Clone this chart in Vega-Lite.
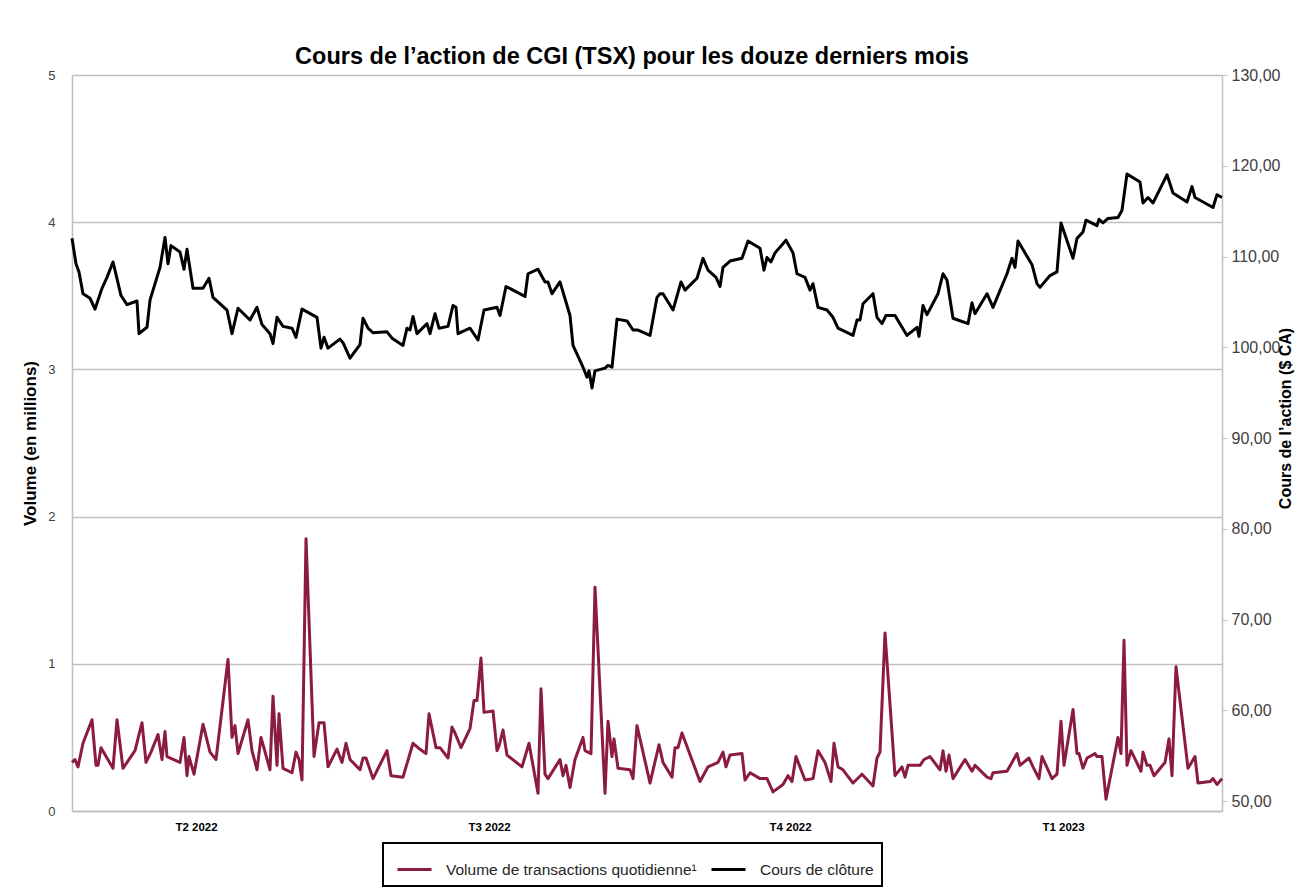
{
  "$schema": "https://vega.github.io/schema/vega-lite/v6.json",
  "autosize": {"type": "none"},
  "width": 1150,
  "height": 736,
  "padding": {"left": 72, "top": 75, "right": 74, "bottom": 84},
  "background": "white",
  "config": {
    "font": "Liberation Sans",
    "view": {"stroke": null},
    "axis": {"labelFont": "Liberation Sans", "titleFont": "Liberation Sans"}
  },
  "title": {
    "text": "Cours de l’action de CGI (TSX) pour les douze derniers mois",
    "font": "Liberation Sans",
    "fontSize": 23.5,
    "fontWeight": "bold",
    "color": "#000000",
    "anchor": "middle",
    "dx": -15,
    "offset": -1
  },
  "datasets": {
    "volume": [
      {"jour": 0.0, "volume": 0.33}, {"jour": 0.6, "volume": 0.35}, {"jour": 1.2, "volume": 0.30}, {"jour": 2.2, "volume": 0.46},
      {"jour": 4.0, "volume": 0.62}, {"jour": 4.8, "volume": 0.31}, {"jour": 5.2, "volume": 0.31}, {"jour": 5.8, "volume": 0.43},
      {"jour": 8.2, "volume": 0.29}, {"jour": 9.0, "volume": 0.62}, {"jour": 10.2, "volume": 0.29}, {"jour": 12.6, "volume": 0.41},
      {"jour": 14.0, "volume": 0.60}, {"jour": 14.8, "volume": 0.33}, {"jour": 15.8, "volume": 0.40}, {"jour": 17.2, "volume": 0.52},
      {"jour": 18.0, "volume": 0.35}, {"jour": 18.6, "volume": 0.54}, {"jour": 19.0, "volume": 0.37}, {"jour": 21.6, "volume": 0.33},
      {"jour": 22.4, "volume": 0.50}, {"jour": 23.0, "volume": 0.24}, {"jour": 23.4, "volume": 0.37}, {"jour": 24.4, "volume": 0.25},
      {"jour": 26.2, "volume": 0.59}, {"jour": 27.6, "volume": 0.40}, {"jour": 28.8, "volume": 0.35}, {"jour": 31.2, "volume": 1.03},
      {"jour": 32.0, "volume": 0.50}, {"jour": 32.6, "volume": 0.58}, {"jour": 33.2, "volume": 0.39}, {"jour": 35.2, "volume": 0.62},
      {"jour": 36.0, "volume": 0.41}, {"jour": 37.0, "volume": 0.28}, {"jour": 37.8, "volume": 0.50}, {"jour": 39.6, "volume": 0.28},
      {"jour": 40.2, "volume": 0.78}, {"jour": 41.0, "volume": 0.31}, {"jour": 41.4, "volume": 0.66}, {"jour": 42.2, "volume": 0.29},
      {"jour": 44.0, "volume": 0.26}, {"jour": 44.8, "volume": 0.40}, {"jour": 45.4, "volume": 0.35}, {"jour": 46.0, "volume": 0.21},
      {"jour": 46.8, "volume": 1.85}, {"jour": 48.4, "volume": 0.37}, {"jour": 49.4, "volume": 0.60}, {"jour": 50.4, "volume": 0.60},
      {"jour": 51.2, "volume": 0.30}, {"jour": 53.0, "volume": 0.42}, {"jour": 54.0, "volume": 0.33}, {"jour": 54.8, "volume": 0.46},
      {"jour": 55.6, "volume": 0.35}, {"jour": 57.6, "volume": 0.28}, {"jour": 58.2, "volume": 0.36}, {"jour": 58.8, "volume": 0.36},
      {"jour": 60.2, "volume": 0.22}, {"jour": 63.0, "volume": 0.41}, {"jour": 63.8, "volume": 0.24}, {"jour": 66.2, "volume": 0.23},
      {"jour": 68.2, "volume": 0.46}, {"jour": 69.2, "volume": 0.43}, {"jour": 70.8, "volume": 0.39}, {"jour": 71.4, "volume": 0.66},
      {"jour": 72.8, "volume": 0.43}, {"jour": 73.6, "volume": 0.43}, {"jour": 75.2, "volume": 0.36}, {"jour": 76.0, "volume": 0.57},
      {"jour": 76.6, "volume": 0.53}, {"jour": 77.8, "volume": 0.43}, {"jour": 79.6, "volume": 0.56}, {"jour": 80.4, "volume": 0.75},
      {"jour": 81.0, "volume": 0.75}, {"jour": 81.8, "volume": 1.04}, {"jour": 82.4, "volume": 0.67}, {"jour": 84.2, "volume": 0.68},
      {"jour": 85.0, "volume": 0.41}, {"jour": 85.4, "volume": 0.44}, {"jour": 86.2, "volume": 0.55}, {"jour": 87.0, "volume": 0.38},
      {"jour": 90.0, "volume": 0.30}, {"jour": 91.4, "volume": 0.46}, {"jour": 93.2, "volume": 0.12}, {"jour": 93.8, "volume": 0.83},
      {"jour": 94.6, "volume": 0.25}, {"jour": 95.2, "volume": 0.22}, {"jour": 97.6, "volume": 0.35}, {"jour": 98.2, "volume": 0.24},
      {"jour": 98.8, "volume": 0.31}, {"jour": 99.6, "volume": 0.16}, {"jour": 100.6, "volume": 0.35}, {"jour": 102.2, "volume": 0.50},
      {"jour": 102.6, "volume": 0.41}, {"jour": 103.8, "volume": 0.39}, {"jour": 104.6, "volume": 1.52}, {"jour": 106.6, "volume": 0.12},
      {"jour": 107.2, "volume": 0.61}, {"jour": 108.0, "volume": 0.37}, {"jour": 108.4, "volume": 0.49}, {"jour": 109.2, "volume": 0.29},
      {"jour": 111.6, "volume": 0.28}, {"jour": 112.2, "volume": 0.22}, {"jour": 113.0, "volume": 0.58}, {"jour": 115.6, "volume": 0.19},
      {"jour": 117.4, "volume": 0.45}, {"jour": 118.2, "volume": 0.33}, {"jour": 120.0, "volume": 0.23}, {"jour": 120.6, "volume": 0.43},
      {"jour": 121.2, "volume": 0.43}, {"jour": 122.0, "volume": 0.53}, {"jour": 125.6, "volume": 0.20}, {"jour": 127.2, "volume": 0.30},
      {"jour": 129.2, "volume": 0.33}, {"jour": 130.2, "volume": 0.40}, {"jour": 130.8, "volume": 0.30}, {"jour": 131.6, "volume": 0.38},
      {"jour": 134.0, "volume": 0.39}, {"jour": 134.6, "volume": 0.21}, {"jour": 135.6, "volume": 0.26}, {"jour": 137.6, "volume": 0.22},
      {"jour": 139.0, "volume": 0.22}, {"jour": 140.2, "volume": 0.13}, {"jour": 142.2, "volume": 0.18}, {"jour": 143.2, "volume": 0.24},
      {"jour": 144.0, "volume": 0.20}, {"jour": 144.8, "volume": 0.37}, {"jour": 146.6, "volume": 0.21}, {"jour": 148.2, "volume": 0.22},
      {"jour": 149.2, "volume": 0.41}, {"jour": 150.6, "volume": 0.33}, {"jour": 151.8, "volume": 0.20}, {"jour": 152.4, "volume": 0.46},
      {"jour": 153.2, "volume": 0.30}, {"jour": 154.2, "volume": 0.28}, {"jour": 156.2, "volume": 0.19}, {"jour": 158.0, "volume": 0.25},
      {"jour": 160.2, "volume": 0.17}, {"jour": 161.0, "volume": 0.36}, {"jour": 161.6, "volume": 0.40}, {"jour": 162.6, "volume": 1.21},
      {"jour": 164.6, "volume": 0.24}, {"jour": 166.0, "volume": 0.30}, {"jour": 166.6, "volume": 0.23}, {"jour": 167.2, "volume": 0.31},
      {"jour": 169.6, "volume": 0.31}, {"jour": 170.4, "volume": 0.35}, {"jour": 171.6, "volume": 0.37}, {"jour": 173.6, "volume": 0.28},
      {"jour": 174.2, "volume": 0.41}, {"jour": 174.8, "volume": 0.27}, {"jour": 175.4, "volume": 0.38}, {"jour": 176.2, "volume": 0.22},
      {"jour": 178.6, "volume": 0.35}, {"jour": 180.0, "volume": 0.27}, {"jour": 180.6, "volume": 0.31}, {"jour": 183.0, "volume": 0.23},
      {"jour": 183.8, "volume": 0.22}, {"jour": 184.2, "volume": 0.26}, {"jour": 187.0, "volume": 0.27}, {"jour": 189.0, "volume": 0.39},
      {"jour": 189.6, "volume": 0.31}, {"jour": 191.4, "volume": 0.36}, {"jour": 192.2, "volume": 0.30}, {"jour": 193.4, "volume": 0.22},
      {"jour": 194.0, "volume": 0.37}, {"jour": 196.0, "volume": 0.22}, {"jour": 197.0, "volume": 0.25}, {"jour": 197.8, "volume": 0.61},
      {"jour": 198.4, "volume": 0.31}, {"jour": 200.2, "volume": 0.69}, {"jour": 201.0, "volume": 0.39}, {"jour": 201.4, "volume": 0.39},
      {"jour": 202.2, "volume": 0.29}, {"jour": 203.0, "volume": 0.36}, {"jour": 204.6, "volume": 0.39}, {"jour": 205.0, "volume": 0.37},
      {"jour": 206.0, "volume": 0.37}, {"jour": 206.8, "volume": 0.08}, {"jour": 209.2, "volume": 0.50}, {"jour": 209.8, "volume": 0.39},
      {"jour": 210.4, "volume": 1.16}, {"jour": 211.0, "volume": 0.31}, {"jour": 211.8, "volume": 0.41}, {"jour": 213.8, "volume": 0.27},
      {"jour": 214.2, "volume": 0.40}, {"jour": 215.0, "volume": 0.31}, {"jour": 215.6, "volume": 0.31}, {"jour": 216.4, "volume": 0.24},
      {"jour": 218.6, "volume": 0.33}, {"jour": 219.4, "volume": 0.49}, {"jour": 220.0, "volume": 0.24}, {"jour": 220.8, "volume": 0.98},
      {"jour": 223.2, "volume": 0.29}, {"jour": 224.6, "volume": 0.37}, {"jour": 225.2, "volume": 0.19}, {"jour": 227.6, "volume": 0.20},
      {"jour": 228.2, "volume": 0.22}, {"jour": 229.0, "volume": 0.18}, {"jour": 230.0, "volume": 0.22}
    ],
    "cours": [
      {"jour": 0.0, "cours": 112.0}, {"jour": 0.8, "cours": 109.2}, {"jour": 1.4, "cours": 108.3}, {"jour": 2.2, "cours": 105.9},
      {"jour": 3.6, "cours": 105.4}, {"jour": 4.6, "cours": 104.2}, {"jour": 6.0, "cours": 106.5}, {"jour": 7.0, "cours": 107.7},
      {"jour": 8.2, "cours": 109.4}, {"jour": 9.8, "cours": 105.7}, {"jour": 11.0, "cours": 104.7}, {"jour": 13.0, "cours": 105.1},
      {"jour": 13.4, "cours": 101.5}, {"jour": 15.0, "cours": 102.2}, {"jour": 15.6, "cours": 105.2}, {"jour": 17.6, "cours": 108.8},
      {"jour": 18.6, "cours": 112.1}, {"jour": 19.2, "cours": 109.2}, {"jour": 19.8, "cours": 111.2}, {"jour": 21.6, "cours": 110.5},
      {"jour": 22.4, "cours": 108.6}, {"jour": 23.0, "cours": 110.8}, {"jour": 24.2, "cours": 106.5}, {"jour": 26.2, "cours": 106.5},
      {"jour": 27.4, "cours": 107.6}, {"jour": 28.2, "cours": 105.5}, {"jour": 31.0, "cours": 104.1}, {"jour": 32.0, "cours": 101.5},
      {"jour": 33.2, "cours": 104.3}, {"jour": 35.6, "cours": 103.0}, {"jour": 37.0, "cours": 104.4}, {"jour": 38.0, "cours": 102.5},
      {"jour": 39.6, "cours": 101.5}, {"jour": 40.2, "cours": 100.4}, {"jour": 41.0, "cours": 103.3}, {"jour": 42.2, "cours": 102.3},
      {"jour": 44.0, "cours": 102.1}, {"jour": 44.8, "cours": 101.1}, {"jour": 46.0, "cours": 104.2}, {"jour": 49.0, "cours": 103.3},
      {"jour": 49.8, "cours": 99.9}, {"jour": 50.4, "cours": 101.1}, {"jour": 51.2, "cours": 99.9}, {"jour": 53.6, "cours": 100.9},
      {"jour": 54.2, "cours": 100.5}, {"jour": 55.6, "cours": 98.8}, {"jour": 57.6, "cours": 100.3}, {"jour": 58.2, "cours": 103.2},
      {"jour": 59.2, "cours": 102.1}, {"jour": 60.2, "cours": 101.6}, {"jour": 63.0, "cours": 101.7}, {"jour": 64.0, "cours": 101.0},
      {"jour": 66.2, "cours": 100.2}, {"jour": 67.0, "cours": 102.1}, {"jour": 67.6, "cours": 101.9}, {"jour": 68.2, "cours": 103.4},
      {"jour": 69.0, "cours": 101.5}, {"jour": 71.0, "cours": 102.6}, {"jour": 71.6, "cours": 101.5}, {"jour": 72.6, "cours": 103.7},
      {"jour": 73.4, "cours": 102.1}, {"jour": 75.2, "cours": 102.3}, {"jour": 76.2, "cours": 104.6}, {"jour": 76.8, "cours": 104.4},
      {"jour": 77.2, "cours": 101.5}, {"jour": 79.6, "cours": 102.1}, {"jour": 81.2, "cours": 100.8}, {"jour": 82.4, "cours": 104.1},
      {"jour": 85.0, "cours": 104.4}, {"jour": 85.6, "cours": 103.5}, {"jour": 86.8, "cours": 106.7}, {"jour": 90.6, "cours": 105.6},
      {"jour": 91.2, "cours": 108.1}, {"jour": 93.2, "cours": 108.6}, {"jour": 94.6, "cours": 107.2}, {"jour": 95.2, "cours": 107.2},
      {"jour": 96.0, "cours": 105.9}, {"jour": 97.6, "cours": 107.2}, {"jour": 99.6, "cours": 103.5}, {"jour": 100.2, "cours": 100.2},
      {"jour": 102.2, "cours": 97.8}, {"jour": 103.0, "cours": 96.7}, {"jour": 103.4, "cours": 97.4}, {"jour": 104.0, "cours": 95.5},
      {"jour": 104.6, "cours": 97.4}, {"jour": 106.6, "cours": 97.7}, {"jour": 107.2, "cours": 98.0}, {"jour": 108.0, "cours": 97.8},
      {"jour": 109.0, "cours": 103.1}, {"jour": 111.0, "cours": 102.9}, {"jour": 112.2, "cours": 101.9}, {"jour": 113.2, "cours": 101.9},
      {"jour": 115.6, "cours": 101.3}, {"jour": 117.0, "cours": 105.5}, {"jour": 117.6, "cours": 105.9}, {"jour": 118.2, "cours": 105.9},
      {"jour": 120.2, "cours": 104.1}, {"jour": 121.8, "cours": 107.2}, {"jour": 122.6, "cours": 106.3}, {"jour": 125.0, "cours": 107.6},
      {"jour": 126.2, "cours": 109.8}, {"jour": 127.2, "cours": 108.5}, {"jour": 128.8, "cours": 107.7}, {"jour": 129.6, "cours": 106.7},
      {"jour": 130.2, "cours": 108.8}, {"jour": 131.6, "cours": 109.5}, {"jour": 134.0, "cours": 109.8}, {"jour": 135.2, "cours": 111.7},
      {"jour": 137.6, "cours": 110.9}, {"jour": 138.4, "cours": 108.5}, {"jour": 139.0, "cours": 109.9}, {"jour": 139.8, "cours": 109.4},
      {"jour": 140.6, "cours": 110.4}, {"jour": 142.8, "cours": 111.8}, {"jour": 144.2, "cours": 110.4}, {"jour": 145.0, "cours": 108.1},
      {"jour": 146.6, "cours": 107.7}, {"jour": 147.6, "cours": 106.3}, {"jour": 148.2, "cours": 107.0}, {"jour": 149.2, "cours": 104.4},
      {"jour": 151.0, "cours": 104.1}, {"jour": 152.2, "cours": 103.3}, {"jour": 153.2, "cours": 102.1}, {"jour": 156.2, "cours": 101.3},
      {"jour": 157.0, "cours": 103.0}, {"jour": 157.6, "cours": 103.0}, {"jour": 158.2, "cours": 104.8}, {"jour": 160.2, "cours": 105.9},
      {"jour": 161.0, "cours": 103.3}, {"jour": 162.0, "cours": 102.6}, {"jour": 162.8, "cours": 103.5}, {"jour": 164.6, "cours": 103.5},
      {"jour": 167.0, "cours": 101.3}, {"jour": 169.0, "cours": 102.2}, {"jour": 169.4, "cours": 101.2}, {"jour": 170.2, "cours": 104.6},
      {"jour": 171.0, "cours": 103.6}, {"jour": 173.2, "cours": 105.9}, {"jour": 174.2, "cours": 108.1}, {"jour": 175.0, "cours": 107.4},
      {"jour": 176.2, "cours": 103.2}, {"jour": 179.2, "cours": 102.6}, {"jour": 180.0, "cours": 104.9}, {"jour": 180.6, "cours": 103.7},
      {"jour": 183.0, "cours": 105.9}, {"jour": 184.2, "cours": 104.4}, {"jour": 187.0, "cours": 108.1}, {"jour": 188.0, "cours": 109.8},
      {"jour": 188.6, "cours": 108.8}, {"jour": 189.2, "cours": 111.7}, {"jour": 192.0, "cours": 109.1}, {"jour": 193.0, "cours": 107.0},
      {"jour": 193.6, "cours": 106.6}, {"jour": 195.6, "cours": 107.9}, {"jour": 197.0, "cours": 108.3}, {"jour": 197.8, "cours": 113.7},
      {"jour": 200.2, "cours": 109.8}, {"jour": 201.0, "cours": 112.0}, {"jour": 202.2, "cours": 112.7}, {"jour": 202.8, "cours": 114.0},
      {"jour": 205.0, "cours": 113.4}, {"jour": 205.4, "cours": 114.1}, {"jour": 206.2, "cours": 113.7}, {"jour": 207.2, "cours": 114.2},
      {"jour": 209.2, "cours": 114.3}, {"jour": 210.0, "cours": 115.1}, {"jour": 211.0, "cours": 119.1}, {"jour": 213.6, "cours": 118.2},
      {"jour": 214.2, "cours": 115.9}, {"jour": 215.2, "cours": 116.5}, {"jour": 216.2, "cours": 115.9}, {"jour": 219.0, "cours": 119.0},
      {"jour": 220.2, "cours": 117.0}, {"jour": 223.0, "cours": 116.0}, {"jour": 224.0, "cours": 117.7}, {"jour": 224.6, "cours": 116.5},
      {"jour": 228.2, "cours": 115.4}, {"jour": 229.0, "cours": 116.8}, {"jour": 230.0, "cours": 116.5}
    ]
  },
  "layer": [
    {
      "data": {"name": "volume"},
      "mark": {"type": "line", "strokeWidth": 3, "interpolate": "linear", "strokeJoin": "round"},
      "encoding": {
        "x": {
          "field": "jour", "type": "quantitative",
          "scale": {"domain": [0, 230], "nice": false, "zero": false},
          "axis": {
            "values": [24.8, 83.4, 143.6, 198.2],
            "labelExpr": "datum.value < 50 ? 'T2 2022' : datum.value < 110 ? 'T3 2022' : datum.value < 170 ? 'T4 2022' : 'T1 2023'",
            "title": null, "grid": false, "ticks": false,
            "domainColor": "#bfbfbf", "domainWidth": 1.5,
            "labelFontSize": 11.5, "labelFontWeight": "bold", "labelColor": "#000000",
            "labelPadding": 10
          }
        },
        "y": {
          "field": "volume", "type": "quantitative",
          "scale": {"domain": [0, 5], "nice": false},
          "axis": {
            "values": [0, 1, 2, 3, 4, 5],
            "title": "Volume (en millions)",
            "titleFontSize": 17, "titleFontWeight": "bold", "titleColor": "#000000",
            "titlePadding": 8,
            "grid": true, "gridColor": "#bfbfbf", "gridWidth": 1.5,
            "ticks": false, "domainColor": "#bfbfbf", "domainWidth": 1.5,
            "labelFontSize": 13, "labelColor": "#404040", "labelPadding": 17
          }
        },
        "color": {
          "datum": "Volume de transactions quotidienne¹",
          "type": "nominal",
          "scale": {
            "domain": ["Volume de transactions quotidienne¹", "Cours de clôture"],
            "range": ["#8c1c3e", "#000000"]
          },
          "legend": {
            "title": null,
            "orient": "none",
            "legendX": 311,
            "legendY": 768,
            "direction": "horizontal",
            "symbolType": "stroke",
            "symbolSize": 1156,
            "symbolStrokeWidth": 3,
            "symbolOffset": 5,
            "labelFontSize": 15.5,
            "labelColor": "#262626",
            "labelFont": "Liberation Sans",
            "labelLimit": 0,
            "columnPadding": 8,
            "labelOffset": 13,
            "padding": 8,
            "strokeColor": "#000000",
            "fillColor": "#ffffff",
            "encode": {"legend": {"update": {"strokeWidth": {"value": 2}}}}
          }
        }
      }
    },
    {
      "data": {"name": "cours"},
      "mark": {"type": "line", "strokeWidth": 3, "interpolate": "linear", "strokeJoin": "round"},
      "encoding": {
        "x": {"field": "jour", "type": "quantitative"},
        "y": {
          "field": "cours", "type": "quantitative",
          "scale": {"domain": [48.9, 130], "nice": false, "zero": false},
          "axis": {
            "orient": "right",
            "values": [50, 60, 70, 80, 90, 100, 110, 120, 130],
            "labelExpr": "replace(format(datum.value, '.2f'), '.', ',')",
            "title": "Cours de l’action ($ CA)",
            "titleAngle": 270,
            "titleY": 343,
            "titleFontSize": 16, "titleFontWeight": "bold", "titleColor": "#000000",
            "titlePadding": 14,
            "grid": false,
            "ticks": true, "tickSize": 5, "tickColor": "#bfbfbf",
            "domainColor": "#bfbfbf", "domainWidth": 1.5,
            "labelFontSize": 16, "labelColor": "#404040", "labelPadding": 4
          }
        },
        "color": {"datum": "Cours de clôture", "type": "nominal"}
      }
    }
  ],
  "resolve": {"scale": {"y": "independent"}}
}
